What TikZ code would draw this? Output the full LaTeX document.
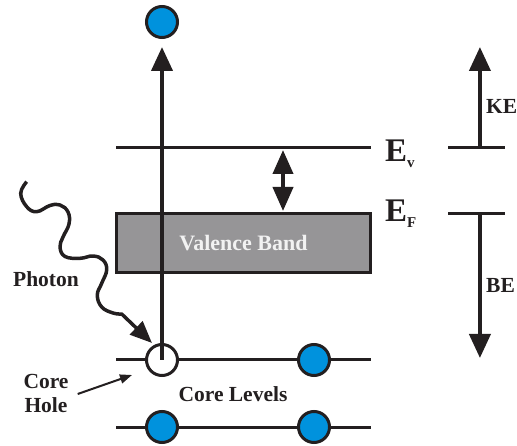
\documentclass[tikz,border=0pt]{standalone}
\usepackage{fontspec}
\setmainfont{Liberation Serif}
\usetikzlibrary{arrows.meta, positioning, calc}
\definecolor{InkBlack}{RGB}{35, 31, 32}
\definecolor{ElectronBlue}{RGB}{0, 146, 221}
\definecolor{BandGray}{RGB}{150, 149, 151}
\definecolor{BandText}{RGB}{242, 242, 242}
\tikzset{
  level/.style={line width=3pt, draw=InkBlack},
  electron/.style={circle, draw=InkBlack, line width=3pt, fill=ElectronBlue,
    minimum size=31pt, inner sep=0pt},
  hole/.style={electron, fill=white},
  band/.style={rectangle, draw=InkBlack, line width=3pt, fill=BandGray,
    minimum width=254pt, minimum height=59pt, inner sep=0pt,
    font=\fontsize{22}{24}\selectfont\bfseries, text=BandText},
  lbl/.style={font=\fontsize{21.5}{24}\selectfont\bfseries, text=InkBlack,
    inner sep=0pt, align=center},
  elbl/.style={font=\fontsize{33}{33}\selectfont\bfseries, text=InkBlack,
    inner sep=0pt, anchor=base west},
  arr/.style={-{Triangle[length=24pt, width=21pt]}, line width=4pt, draw=InkBlack},
  darr/.style={{Triangle[length=24pt, width=20pt]}-{Triangle[length=24pt, width=20pt]},
    line width=4pt, draw=InkBlack},
  photon/.style={-{Triangle[length=22pt, width=18pt]}, line width=3.5pt,
    draw=InkBlack, line join=round},
  thinarr/.style={-{Triangle[length=12pt, width=9pt]}, line width=2pt, draw=InkBlack},
}
\newcommand{\esub}[1]{\raisebox{-6pt}{\fontsize{15}{15}\selectfont #1}}

\begin{document}
\begin{tikzpicture}[x=1pt, y=-1pt]
  \useasboundingbox (0,0) rectangle (517,446);

  % valence band and vacuum level
  \node[band] (vb) at (243.5,243) {Valence Band};
  \coordinate (evL) at (116,148);
  \coordinate (evR) at (371,148);
  \draw[level] (evL) -- (evR);
  \node[elbl] (ev) at (385,162) {E\esub{v}};
  \node[elbl] (ef) at (385,222) {E\esub{F}};
  \coordinate (gapT) at (283,150);
  \coordinate (gapB) at (283,211);
  \draw[darr] (gapT) -- (gapB);

  % core levels
  \coordinate (c1L) at (116,360); \coordinate (c1R) at (371,360);
  \coordinate (c2L) at (116,427); \coordinate (c2R) at (371,427);
  \draw[level] (c1L) -- (c1R);
  \draw[level] (c2L) -- (c2R);
  \node[hole] (hole) at (162,360) {};
  \node[electron] (e1) at (314,360) {};
  \node[electron] (e2) at (162,427) {};
  \node[electron] (e3) at (314,427) {};
  \node[electron] (eout) at (162,22) {};
  \node[lbl] (cl) at (233,394.5) {Core Levels};

  % photoelectron
  \draw[arr] (hole.center) -- ($(eout.south)+(0,8)$);

  % photon
  \coordinate (phTip) at (152,343);
  \draw[photon] plot[smooth, tension=0.7] coordinates {
      (26.7,181.7) (20.7,193.3) (26.7,206.7) (36.7,211.7) (50,205.5)
      (60,205) (68,212) (69,224) (63,237) (60,247) (65,256.5) (80,258.3)
      (93,256) (103,260) (106.7,270) (101.7,283.3) (97.3,295)
      (101.7,307) (113,313) (121.7,314)} -- (phTip);
  \node[lbl] (ph) at (46,279) {Photon};

  % core hole
  \node[lbl] (ch) at (46,393) {Core\\Hole};
  \draw[thinarr] ($(ch.east)+(9,1)$) -- ($(hole.center)+(-30,15)$);

  % energy scales
  \coordinate (keL) at (448,148); \coordinate (keR) at (505,148);
  \coordinate (beL) at (448,214); \coordinate (beR) at (505,214);
  \draw[level] (keL) -- (keR);
  \draw[level] (beL) -- (beR);
  \draw[arr] ($(keL)!0.56!(keR)$) -- ++(0,-101);
  \draw[arr] ($(beL)!0.56!(beR)$) -- ++(0,144);
  \node[lbl, anchor=west] (ke) at (486,106) {KE};
  \node[lbl, anchor=west] (be) at (486,285) {BE};
\end{tikzpicture}
\end{document}
